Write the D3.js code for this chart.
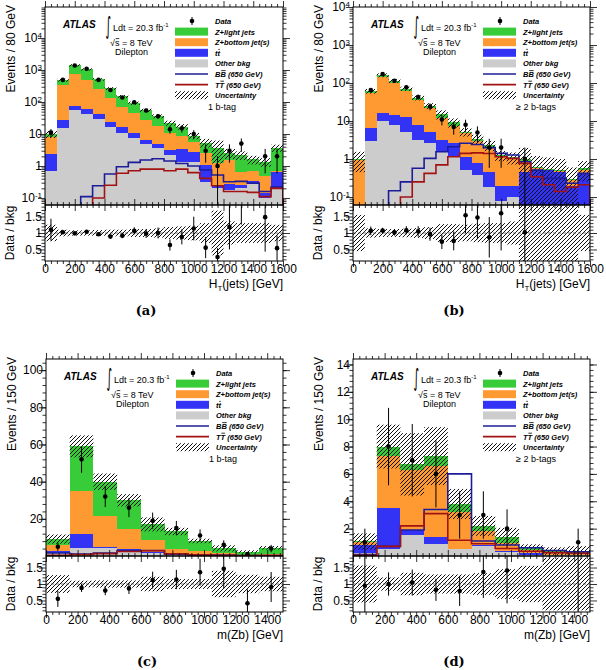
<!DOCTYPE html>
<html>
<head>
<meta charset="utf-8">
<script src="https://cdn.jsdelivr.net/npm/d3@7"></script>
<style>
body { margin: 0; background: #fff; }
svg { font-family: "Liberation Sans", Arial, sans-serif; }
</style>
</head>
<body>
<svg width="606" height="670"></svg>
<script>
// bin edges
const htBins = [0, 80, 160, 240, 320, 400, 480, 560, 640, 720, 800, 880, 960, 1040, 1120, 1200, 1280, 1360, 1440, 1520, 1600];
const mzbBins = [0, 150, 300, 450, 600, 750, 900, 1050, 1200, 1350, 1500];

// (a) HT(jets), 1 b-tag
const a_other = [0.7, 15.7, 56, 42, 29, 17, 11, 7.3, 4.9, 3.6, 2.2, 1.3, 1.3, 0.32, 0.2, 0.18, 0.2, 0.3, 0.1, 0.2];
const a_ttbar = [1.7, 11.3, 19, 18, 12.5, 7, 5, 3.2, 1.6, 1.3, 1.0, 2.0, 1.5, 0.75, 0.05, 0.1, 0.05, 0.05, 0.04, 0.45];
const a_zb = [5.5, 313, 675, 430, 208.5, 106, 55, 33.5, 20.5, 13.1, 7.3, 5.2, 3.0, 1.43, 0.95, 1.25, 0.41, 0.35, 0.36, 0.05];
const a_zl = [2.1, 140, 654, 558, 260, 135, 79, 48, 28, 18, 11.5, 8.5, 3.0, 2.9, 2.5, 1.0, 1.54, 0.9, 0.85, 3.0];
const a_data = [11, 490, 1390, 1090, 490, 236, 138, 98, 54, 36, 14, 15, 10, 3, 1, 3, 5, 0, 2, 2];
const a_unc = [0.25, 0.1, 0.08, 0.08, 0.09, 0.1, 0.1, 0.12, 0.12, 0.14, 0.18, 0.2, 0.22, 0.3, 0.68, 0.35, 0.3, 0.3, 0.3, 0.25];
const a_BB = [null, null, null, 0.11, 0.24, 0.56, 0.95, 1.3, 1.54, 1.69, 1.43, 1.2, 1.0, 0.75, 0.52, 0.32, 0.33, 0.29, 0.16, 0.22];
const a_TT = [null, null, null, null, 0.1, 0.25, 0.59, 0.71, 0.8, 0.8, 0.71, 0.8, 0.62, 0.41, 0.24, 0.16, 0.16, 0.15, 0.11, 0.2];

// (b) HT(jets), >= 2 b-tags
const b_other = [0, 2.9, 10.2, 7.8, 5.2, 3.2, 2.6, 1.56, 1.15, 0.51, 0.38, 0.18, 0.08, 0.1, 0, 0, 0, 0, 0, 0];
const b_ttbar = [0, 3.8, 5.8, 6.6, 7.8, 4.6, 2.6, 1.64, 1.45, 0.64, 0.39, 0.27, 0.12, 0.09, 0.45, 0.5, 0.5, 0.45, 0.19, 0.44];
const b_zb = [0.95, 47.3, 130, 86.6, 47, 28.2, 16.4, 8.8, 5.0, 3.55, 2.23, 1.45, 0.95, 0.81, 0.4, 0.07, 0.02, 0.02, 0.09, 0.08];
const b_zl = [0.05, 7, 14, 12, 11, 5, 3.4, 3, 1.6, 0.5, 0.4, 0.4, 0.1, 0.1, 0.13, 0.03, 0.03, 0.03, 0.02, 0.05];
const b_data = [0, 65, 172, 115, 77, 43, 24, 11, 7, 8, 5, 2, 2, 0, 1, 0, 0, 0, 0, 0];
const b_unc = [0.55, 0.14, 0.12, 0.12, 0.13, 0.15, 0.18, 0.27, 0.27, 0.25, 0.28, 0.3, 0.3, 0.35, 1.0, 1.0, 1.0, 1.0, 1.0, 0.55];
const b_BB = [null, null, null, 0.146, 0.25, 0.57, 1.04, 1.56, 2.1, 2.6, 2.4, 2.0, 1.41, 1.27, 0.85, 0.51, 0.31, 0.31, 0.23, 0.42];
const b_TT = [null, null, null, null, 0.1, 0.25, 0.42, 0.7, 1.15, 1.41, 1.45, 1.4, 1.15, 1.04, 0.77, 0.34, 0.21, 0.14, 0.18, 0.21];

// (c) m(Zb), 1 b-tag
const c_other = [1.5, 4.5, 4.5, 2.5, 1.8, 0.8, 0.5, 0.3, 0.2, 0.2];
const c_ttbar = [1.1, 7.2, 0.5, 1.1, 0.4, 0.3, 0.3, 0.2, 0.1, 0.1];
const c_zb = [3.3, 23.3, 16.4, 10.7, 6.4, 2.5, 2.1, 1.3, 0.5, 0.9];
const c_zl = [3.2, 24, 18.6, 15.7, 8.4, 9.6, 5.2, 2.3, 1.6, 3.2];
const c_data = [5, 52, 32, 26, 19, 15, 11, 6, 1, 4];
const c_unc = [0.27, 0.1, 0.11, 0.11, 0.22, 0.15, 0.15, 0.4, 0.28, 0.22];
const c_BB = [1.6, 1.0, 1.6, 3.0, 3.0, 1.0, 0.6, 0.5, 0.3, 0.3];
const c_TT = [0.4, 0.8, 1.3, 2.4, 2.8, 1.2, 0.6, 0.4, 0.3, 0.2];

// (d) m(Zb), >= 2 b-tags
const d_other = [0.2, 0.5, 1.5, 0.9, 0.5, 0.7, 0.3, 0.1, 0.05, 0.05];
const d_ttbar = [0.6, 3.0, 0.4, 0.5, 0.0, 0.1, 0.1, 0.1, 0.05, 0.05];
const d_zb = [0.2, 3.8, 4.4, 5.2, 2.7, 1.0, 0.54, 0.25, 0.1, 0.15];
const d_zl = [0.06, 0.7, 0.4, 0.7, 0.6, 0.4, 0.48, 0.1, 0.15, 0.15];
const d_data = [1, 8, 7, 6, 3, 3, 2, 0, 0, 1];
const d_unc = [0.56, 0.2, 0.34, 0.29, 0.29, 0.33, 0.45, 0.55, 0.8, 0.8];
const d_BB = [0.1, 0.7, 1.9, 3.4, 6.0, 1.1, 0.8, 0.6, 0.4, 0.3];
const d_TT = [0.05, 0.7, 2.2, 3.1, 1.15, 0.9, 0.55, 0.35, 0.25, 0.2];

// "~" marks the character that gets an overline
const legendLabels = ["Data", "Z+light jets", "Z+bottom jet(s)", "t~t", "Other bkg",
    "B~B (650 GeV)", "T~T (650 GeV)", "Uncertainty"];

const keys = ["other", "ttbar", "zb", "zl"];
const colors = { other: "#cccccc", ttbar: "#3333f5", zb: "#ff9a33", zl: "#38cc38" };
const lineBB = "#1c1c9a";
const lineTT = "#a31212";
const ratioDomain = [0.15, 1.85];

const svg = d3.select("svg");
const defs = svg.append("defs");
defs.append("pattern")
    .attr("id", "hatch")
    .attr("patternUnits", "userSpaceOnUse")
    .attr("width", 4).attr("height", 4)
    .append("path")
    .attr("d", "M-1,1 l2,-2 M0,4 l4,-4 M3,5 l2,-2")
    .attr("stroke", "#111")
    .attr("stroke-width", 1.0);

const panels = [
    { id: "a", bins: htBins, other: a_other, ttbar: a_ttbar, zb: a_zb, zl: a_zl, data: a_data, unc: a_unc, bb: a_BB, tt: a_TT,
      left: 45, right: 283, top: 7, mid: 205, bottom: 261, log: true, yDomain: [Math.pow(10, -1.22), Math.pow(10, 4.97)],
      yTitle: "Events / 80 GeV", ht: true, tag: "1 b-tag", label: "(a)" },
    { id: "b", bins: htBins, other: b_other, ttbar: b_ttbar, zb: b_zb, zl: b_zl, data: b_data, unc: b_unc, bb: b_BB, tt: b_TT,
      left: 353, right: 590, top: 7, mid: 205, bottom: 261, log: true, yDomain: [Math.pow(10, -1.21), 1e4],
      yTitle: "Events / 80 GeV", ht: true, tag: "\u2265 2 b-tags", label: "(b)" },
    { id: "c", bins: mzbBins, other: c_other, ttbar: c_ttbar, zb: c_zb, zl: c_zl, data: c_data, unc: c_unc, bb: c_BB, tt: c_TT,
      left: 46, right: 283, top: 359, mid: 556, bottom: 612, log: false, yDomain: [0, 106],
      yMajor: [20, 40, 60, 80, 100], yMinorStep: 4,
      yTitle: "Events / 150 GeV", ht: false, tag: "1 b-tag", label: "(c)" },
    { id: "d", bins: mzbBins, other: d_other, ttbar: d_ttbar, zb: d_zb, zl: d_zl, data: d_data, unc: d_unc, bb: d_BB, tt: d_TT,
      left: 353, right: 590, top: 359, mid: 556, bottom: 612, log: false, yDomain: [0, 14.4],
      yMajor: [2, 4, 6, 8, 10, 12, 14], yMinorStep: 0.4,
      yTitle: "Events / 150 GeV", ht: false, tag: "\u2265 2 b-tags", label: "(d)" }
];

function addAxis(parent, axis, values, size, tx, ty, fmt) {
    axis.tickValues(values).tickSizeInner(-size).tickSizeOuter(0).tickPadding(3)
        .tickFormat(fmt || (() => ""));
    const sel = parent.append("g")
        .attr("transform", `translate(${tx},${ty})`)
        .call(axis);
    sel.select(".domain").remove();
    sel.attr("font-size", 12).attr("font-family", null);
    sel.selectAll("line").attr("stroke-width", 0.8);
    return sel;
}

function logTicks(domain) {
    const major = [], minor = [];
    for (let e = Math.floor(Math.log10(domain[0])); e <= Math.ceil(Math.log10(domain[1])); e++) {
        for (let m = 1; m < 10; m++) {
            const v = m * Math.pow(10, e);
            if (v < domain[0] || v > domain[1]) continue;
            (m === 1 ? major : minor).push(v);
        }
    }
    return { major, minor };
}

// draws a bar over character idx of a text element
function overline(parent, textEl, idx, color) {
    const b = textEl.getExtentOfChar(idx);
    parent.append("line")
        .attr("x1", b.x + 0.8).attr("x2", b.x + b.width - 0.2)
        .attr("y1", b.y + 0.6).attr("y2", b.y + 0.6)
        .attr("stroke", color || "#000")
        .attr("stroke-width", 0.8);
}

function drawPanel(p) {
    const g = svg.append("g");
    const nb = p.data.length;
    const xMax = p.bins[nb];
    const x = d3.scaleLinear().domain([p.bins[0], xMax]).range([p.left, p.right]);
    const y = (p.log ? d3.scaleLog() : d3.scaleLinear()).domain(p.yDomain).range([p.mid, p.top]);
    const r = d3.scaleLinear().domain(ratioDomain).range([p.bottom, p.mid]);
    const below = p.mid + 30;
    const yv = (v) => (v == null || (p.log && v <= 0)) ? below : y(v);

    defs.append("clipPath").attr("id", "clipm" + p.id).append("rect")
        .attr("x", p.left).attr("y", p.top).attr("width", p.right - p.left).attr("height", p.mid - p.top);
    defs.append("clipPath").attr("id", "clipr" + p.id).append("rect")
        .attr("x", p.left).attr("y", p.mid).attr("width", p.right - p.left).attr("height", p.bottom - p.mid);

    const rows = p.data.map((n, i) => ({
        x0: p.bins[i], x1: p.bins[i + 1],
        other: p.other[i], ttbar: p.ttbar[i], zb: p.zb[i], zl: p.zl[i],
        n: n, unc: p.unc[i], bb: p.bb[i], tt: p.tt[i]
    }));
    rows.forEach((d) => { d.total = d.other + d.ttbar + d.zb + d.zl; });
    const series = d3.stack().keys(keys)(rows);

    // main pad
    const mg = g.append("g").attr("clip-path", `url(#clipm${p.id})`);
    mg.selectAll("g.layer")
        .data(series)
        .join("g")
        .attr("class", "layer")
        .attr("fill", (s) => colors[s.key])
        .selectAll("rect")
        .data((s) => s)
        .join("rect")
        .attr("shape-rendering", "crispEdges")
        .attr("x", (d) => x(d.data.x0))
        .attr("width", (d) => x(d.data.x1) - x(d.data.x0))
        .attr("y", (d) => yv(d[1]))
        .attr("height", (d) => Math.max(0, yv(d[0]) - yv(d[1])));

    mg.selectAll("rect.band")
        .data(rows)
        .join("rect")
        .attr("class", "band")
        .attr("x", (d) => x(d.x0))
        .attr("width", (d) => x(d.x1) - x(d.x0))
        .attr("y", (d) => yv(d.total * (1 + d.unc)))
        .attr("height", (d) => yv(d.total * (1 - d.unc)) - yv(d.total * (1 + d.unc)))
        .attr("fill", "url(#hatch)");

    const line = d3.line();
    [["bb", lineBB], ["tt", lineTT]].forEach(([k, c]) => {
        const pts = [[x(rows[0].x0), below]];
        rows.forEach((d) => {
            pts.push([x(d.x0), yv(d[k])], [x(d.x1), yv(d[k])]);
        });
        pts.push([x(rows[nb - 1].x1), below]);
        mg.append("path")
            .attr("d", line(pts))
            .attr("fill", "none")
            .attr("stroke", c)
            .attr("stroke-width", 1.6);
    });

    const obs = rows.filter((d) => d.n > 0);
    const xc = (d) => x((d.x0 + d.x1) / 2);
    mg.selectAll("line.err")
        .data(obs)
        .join("line")
        .attr("x1", xc).attr("x2", xc)
        .attr("y1", (d) => yv(d.n + Math.sqrt(d.n)))
        .attr("y2", (d) => yv(d.n - Math.sqrt(d.n)))
        .attr("stroke", "#000")
        .attr("stroke-width", 1);
    mg.selectAll("circle")
        .data(obs)
        .join("circle")
        .attr("cx", xc)
        .attr("cy", (d) => yv(d.n))
        .attr("r", 2.3)
        .attr("fill", "#000");

    // ratio pad
    const rg = g.append("g").attr("clip-path", `url(#clipr${p.id})`);
    rg.selectAll("rect.band")
        .data(rows)
        .join("rect")
        .attr("class", "band")
        .attr("x", (d) => x(d.x0))
        .attr("width", (d) => x(d.x1) - x(d.x0))
        .attr("y", (d) => r(1 + d.unc))
        .attr("height", (d) => r(1 - d.unc) - r(1 + d.unc))
        .attr("fill", "url(#hatch)");
    rg.append("line")
        .attr("x1", p.left).attr("x2", p.right)
        .attr("y1", r(1)).attr("y2", r(1))
        .attr("stroke", "#555")
        .attr("stroke-width", 0.8)
        .attr("stroke-dasharray", "3,2");
    rg.selectAll("line.err")
        .data(obs)
        .join("line")
        .attr("x1", xc).attr("x2", xc)
        .attr("y1", (d) => r((d.n + Math.sqrt(d.n)) / d.total))
        .attr("y2", (d) => r((d.n - Math.sqrt(d.n)) / d.total))
        .attr("stroke", "#000")
        .attr("stroke-width", 1);
    rg.selectAll("circle")
        .data(obs)
        .join("circle")
        .attr("cx", xc)
        .attr("cy", (d) => r(d.n / d.total))
        .attr("r", 2.3)
        .attr("fill", "#000");

    // frames
    [[p.top, p.mid], [p.mid, p.bottom]].forEach(([t, b]) => {
        g.append("rect")
            .attr("x", p.left).attr("y", t)
            .attr("width", p.right - p.left).attr("height", b - t)
            .attr("fill", "none").attr("stroke", "#000").attr("stroke-width", 1);
    });

    // x ticks
    const xMajor = d3.range(0, xMax + 1, 200);
    const xMinor = d3.range(0, xMax + 1, 40).filter((v) => v % 200 !== 0);
    const ax = g.append("g");
    [[d3.axisTop, p.mid], [d3.axisBottom, p.top], [d3.axisBottom, p.mid], [d3.axisTop, p.bottom]].forEach(([fn, ty]) => {
        addAxis(ax, fn(x), xMajor, 6, 0, ty);
        addAxis(ax, fn(x), xMinor, 3, 0, ty);
    });
    addAxis(ax, d3.axisBottom(x), xMajor, 0, 0, p.bottom, d3.format("d"))
        .selectAll("line").remove();

    // y ticks, main
    let yMaj, yMin, yFmt;
    if (p.log) {
        const lt = logTicks(p.yDomain);
        yMaj = lt.major; yMin = lt.minor;
        yFmt = (d) => d;
    } else {
        yMaj = p.yMajor;
        yMin = d3.range(p.yMinorStep, p.yDomain[1], p.yMinorStep);
        yFmt = d3.format("d");
    }
    addAxis(ax, d3.axisRight(y), yMaj, 7, p.left, 0);
    addAxis(ax, d3.axisRight(y), yMin, 3.5, p.left, 0);
    addAxis(ax, d3.axisLeft(y), yMaj, 7, p.right, 0);
    addAxis(ax, d3.axisLeft(y), yMin, 3.5, p.right, 0);
    const yl = addAxis(ax, d3.axisLeft(y), yMaj, 0, p.left, 0, yFmt);
    yl.selectAll("line").remove();
    if (p.log) {
        yl.selectAll(".tick text").each(function (d) {
            const t = d3.select(this);
            const e = Math.round(Math.log10(d));
            t.text(e === 0 ? "1" : "10");
            if (e !== 0 && e !== 1) {
                t.append("tspan").attr("dy", "-0.5em").attr("font-size", 8).text(e);
            }
        });
    }

    // y ticks, ratio
    const rMaj = [0.5, 1, 1.5];
    const rMin = d3.range(2, 19).map((v) => v / 10).filter((v) => rMaj.indexOf(v) < 0);
    addAxis(ax, d3.axisRight(r), rMaj, 7, p.left, 0);
    addAxis(ax, d3.axisRight(r), rMin, 3.5, p.left, 0);
    addAxis(ax, d3.axisLeft(r), rMaj, 7, p.right, 0);
    addAxis(ax, d3.axisLeft(r), rMin, 3.5, p.right, 0);
    addAxis(ax, d3.axisLeft(r), rMaj, 0, p.left, 0, (d) => d)
        .selectAll("line").remove();

    // titles
    g.append("text")
        .attr("transform", `translate(${p.left - 30},${p.top - 2}) rotate(-90)`)
        .attr("text-anchor", "end")
        .attr("font-size", 12)
        .text(p.yTitle);
    g.append("text")
        .attr("transform", `translate(${p.left - 31},${(p.mid + p.bottom) / 2}) rotate(-90)`)
        .attr("text-anchor", "middle")
        .attr("font-size", 12)
        .text("Data / bkg");
    const xt = g.append("text")
        .attr("x", p.right)
        .attr("y", p.bottom + 27)
        .attr("text-anchor", "end")
        .attr("font-size", 12);
    if (p.ht) {
        xt.append("tspan").text("H");
        xt.append("tspan").attr("font-size", 8).attr("dy", 3).text("T");
        xt.append("tspan").attr("dy", -3).text("(jets) [GeV]");
    } else {
        xt.text("m(Zb) [GeV]");
    }
    g.append("text")
        .attr("x", p.left + 101)
        .attr("y", p.bottom + 54)
        .attr("text-anchor", "middle")
        .attr("font-family", "DejaVu Serif")
        .attr("font-weight", "bold")
        .attr("font-size", 13)
        .text(p.label);

    decorate(g, p);
}

function decorate(g, p) {
    const L = p.left, T = p.top;
    g.append("text")
        .attr("x", L + 18).attr("y", T + 21)
        .attr("font-weight", "bold").attr("font-style", "italic").attr("font-size", 10)
        .text("ATLAS");
    g.append("text")
        .attr("transform", `translate(${L + 60.5},${T + 27}) scale(0.72,1.6)`)
        .attr("font-family", "DejaVu Sans")
        .attr("font-size", 15)
        .text("\u222B");
    const t1 = g.append("text")
        .attr("x", L + 68).attr("y", T + 24)
        .attr("font-size", 9)
        .text("Ldt = 20.3 fb");
    t1.append("tspan").attr("dy", -4).attr("font-size", 6).text("-1");
    const t2 = g.append("text")
        .attr("x", L + 65).attr("y", T + 39)
        .attr("font-size", 9)
        .text("\u221As = 8 TeV");
    overline(g, t2.node(), 1);
    g.append("text")
        .attr("x", L + 70).attr("y", T + 48)
        .attr("font-size", 9)
        .text("Dilepton");
    g.append("text")
        .attr("x", L + 163).attr("y", T + 103)
        .attr("font-size", 9)
        .text(p.tag);

    const rowsY = [14, 24.6, 35.2, 45.8, 56.4, 67, 77.6, 88.2];
    const bx = L + 130, bw = 33;
    const lg = g.append("g");
    // data marker
    lg.append("line")
        .attr("x1", L + 147).attr("x2", L + 147)
        .attr("y1", T + rowsY[0] - 4).attr("y2", T + rowsY[0] + 4)
        .attr("stroke", "#000");
    lg.append("circle")
        .attr("cx", L + 147).attr("cy", T + rowsY[0]).attr("r", 2.3).attr("fill", "#000");
    [colors.zl, colors.zb, colors.ttbar, colors.other].forEach((c, i) => {
        lg.append("rect")
            .attr("x", bx).attr("y", T + rowsY[i + 1] - 4)
            .attr("width", bw).attr("height", 8)
            .attr("fill", c);
    });
    [lineBB, lineTT].forEach((c, i) => {
        lg.append("line")
            .attr("x1", bx).attr("x2", bx + bw)
            .attr("y1", T + rowsY[i + 5]).attr("y2", T + rowsY[i + 5])
            .attr("stroke", c).attr("stroke-width", 1.6);
    });
    lg.append("rect")
        .attr("x", bx).attr("y", T + rowsY[7] - 4)
        .attr("width", bw).attr("height", 8)
        .attr("fill", "url(#hatch)");
    lg.selectAll("text")
        .data(legendLabels)
        .join("text")
        .attr("x", L + 170)
        .attr("y", (d, i) => T + rowsY[i] + 3)
        .attr("font-size", 7.5)
        .attr("font-weight", "bold")
        .attr("font-style", "italic")
        .text((d) => d.replace("~", ""))
        .each(function (d) {
            const k = d.indexOf("~");
            if (k >= 0) overline(lg, this, k);
        });
}

panels.forEach(drawPanel);
</script>
</body>
</html>
